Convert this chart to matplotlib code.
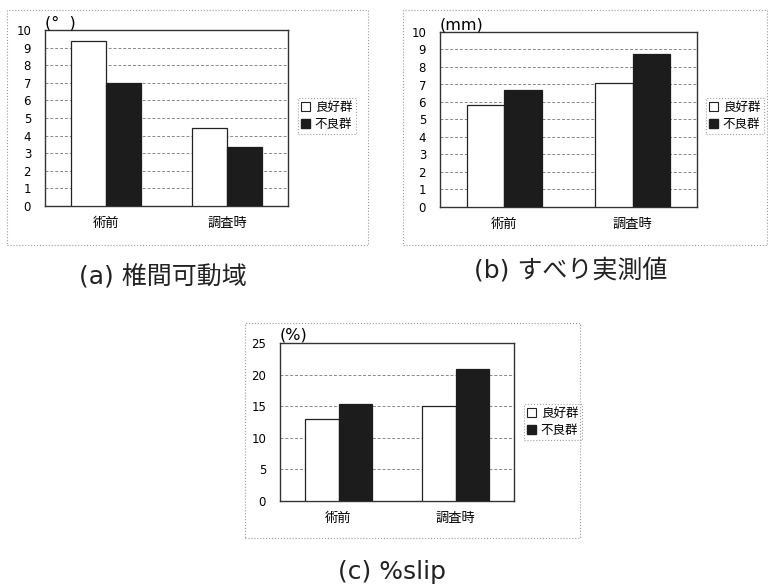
import numpy as np
import matplotlib
matplotlib.use('Agg')
import matplotlib.pyplot as plt
from matplotlib.patches import Rectangle, Patch

plt.rcParams['font.family'] = ['Noto Sans CJK JP', 'DejaVu Sans']

# data
categories = ['術前', '調査時']
series_names = ['良好群', '不良群']

rom_good = [9.4, 4.45]      # (a) 椎間可動域
rom_bad = [7.0, 3.35]
slip_good = [5.8, 7.1]      # (b) すべり実測値
slip_bad = [6.7, 8.75]
pct_good = [13.0, 15.0]     # (c) %slip
pct_bad = [15.4, 20.9]

W, H = 768, 584
fig = plt.figure(figsize=(W / 100, H / 100), dpi=100)


def rect(x0, y0, x1, y1):
    # pixel box (top-left origin) -> figure fraction
    return [x0 / W, 1 - y1 / H, (x1 - x0) / W, (y1 - y0) / H]


def panel(ax_px, frame_px, good, bad, ymax, ystep, unit, leg_px):
    ax = fig.add_axes(rect(*ax_px))
    x = np.arange(len(categories))
    w = 0.29
    ax.bar(x - w / 2, good, w, color='white', edgecolor='#222222', lw=0.9, zorder=3)
    ax.bar(x + w / 2, bad, w, color='#1c1c1c', edgecolor='#1c1c1c', lw=0.9, zorder=3)
    ax.set_xlim(-0.5, 1.5)
    ax.set_ylim(0, ymax)
    ax.set_yticks(np.arange(0, ymax + 0.1, ystep))
    ax.set_xticks(x)
    ax.set_xticklabels(categories, fontsize=9.5)
    for lab in ax.get_yticklabels():
        lab.set_family(['DejaVu Sans'])
    ax.tick_params(axis='y', labelsize=8.5, length=0, pad=10)
    ax.tick_params(axis='x', length=0, pad=8)
    ax.yaxis.grid(True, ls=(0, (3, 2)), color='#888888', lw=0.7, zorder=0)
    for s in ax.spines.values():
        s.set_color('#333333')
        s.set_linewidth(1.0)
    ax.text(0.0, 1.0, unit, transform=ax.transAxes, fontsize=11.5,
            ha='left', va='bottom', family=['DejaVu Sans'])

    # legend box
    handles = [Patch(facecolor='white', edgecolor='#222222', lw=0.8),
               Patch(facecolor='#1c1c1c', edgecolor='#1c1c1c')]
    leg = ax.legend(handles, series_names, loc='center left',
                    bbox_to_anchor=(leg_px[0] / W, 1 - leg_px[1] / H),
                    bbox_transform=fig.transFigure, fontsize=9,
                    fancybox=False, handlelength=0.7, handleheight=0.7,
                    handletextpad=0.4, borderpad=0.25, labelspacing=0.35,
                    borderaxespad=0)
    fr = leg.get_frame()
    fr.set_edgecolor('#888888')
    fr.set_linestyle(':')
    fr.set_linewidth(0.8)

    x0, y0, x1, y1 = frame_px
    fig.patches.append(Rectangle((x0 / W, 1 - y1 / H), (x1 - x0) / W, (y1 - y0) / H,
                                 transform=fig.transFigure, fill=False,
                                 ec='#999999', ls=':', lw=0.8))
    return ax


panel((45, 30, 288, 206), (7, 10, 368, 245), rom_good, rom_bad, 10, 1, '(°  )', (298, 116))
panel((440, 32, 697, 207), (403, 10, 767, 245), slip_good, slip_bad, 10, 1, '(mm)', (706, 116))
panel((280, 343, 514, 501), (245, 323, 580, 538), pct_good, pct_bad, 25, 5, '(%)', (524, 422))

cap = dict(fontsize=18, ha='center', va='center', color='#222222',
           family=['DejaVu Sans', 'Noto Sans CJK JP'])
fig.text(163 / W, 1 - 277 / H, '(a) 椎間可動域', **cap)
fig.text(571 / W, 1 - 270 / H, '(b) すべり実測値', **cap)
fig.text(392 / W, 1 - 572 / H, '(c) %slip', **cap)

fig.savefig('out.png', dpi=100, facecolor='white')
